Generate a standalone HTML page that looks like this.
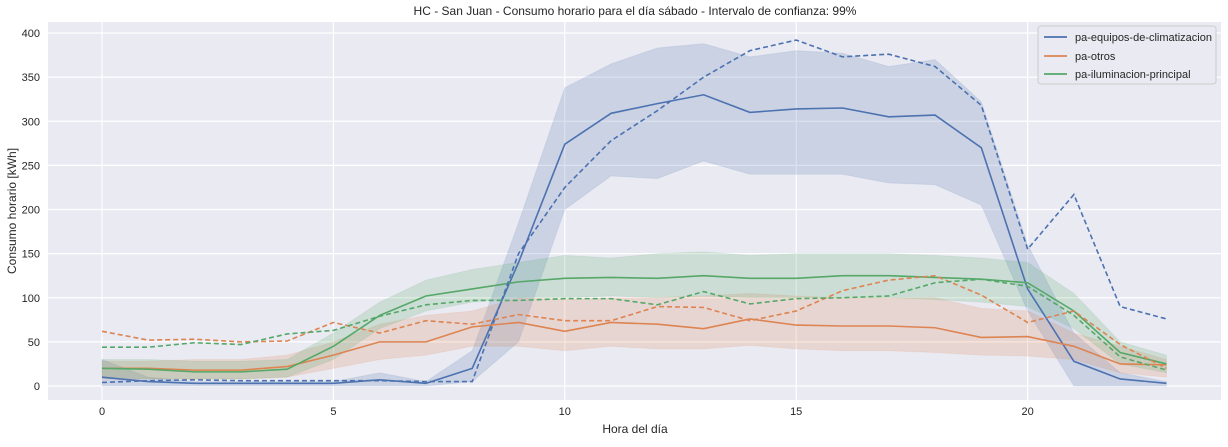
<!DOCTYPE html>
<html><head><meta charset="utf-8"><style>
body{margin:0;background:#fff;font-family:"Liberation Sans",sans-serif;}
svg text{font-family:"Liberation Sans",sans-serif;fill:#262626;}
</style></head><body>
<svg id="chart" width="1228" height="442" xmlns="http://www.w3.org/2000/svg">
<text x="635" y="15" text-anchor="middle" font-size="12">HC - San Juan - Consumo horario para el día sábado - Intervalo de confianza: 99%</text>
<rect x="48" y="22" width="1173" height="378" fill="#eaeaf2"/>
<g id="grid"></g><g id="bands"></g><g id="lines"></g><g id="ticks"></g>
<text x="635" y="433" text-anchor="middle" font-size="12">Hora del día</text>
<text transform="translate(16,211) rotate(-90)" text-anchor="middle" font-size="12">Consumo horario [kWh]</text>
<g>
<rect x="1038" y="26" width="178" height="58" rx="3" fill="#eaeaf2" stroke="#ccc"/>
<line x1="1044" y1="37" x2="1067" y2="37" stroke="#4c72b0" stroke-width="1.8"/>
<text x="1075" y="41" font-size="11">pa-equipos-de-climatizacion</text>
<line x1="1044" y1="56" x2="1067" y2="56" stroke="#dd8452" stroke-width="1.8"/>
<text x="1075" y="60" font-size="11">pa-otros</text>
<line x1="1044" y1="74" x2="1067" y2="74" stroke="#55a868" stroke-width="1.8"/>
<text x="1075" y="78" font-size="11">pa-iluminacion-principal</text>
</g>
</svg>
<script>
const hours=[0,1,2,3,4,5,6,7,8,9,10,11,12,13,14,15,16,17,18,19,20,21,22,23];
const xTicks=[0,5,10,15,20];
const yTicks=[0,50,100,150,200,250,300,350,400];
const climMean=[10,5,3,3,3,3,7,3,20,140,274,309,320,330,310,314,315,305,307,270,110,28,8,3];
const climLow=[0,0,0,0,0,0,0,0,5,50,200,238,235,255,240,240,240,230,228,205,85,0,0,0];
const climHigh=[30,10,5,5,5,5,15,5,40,185,338,365,383,388,373,380,377,362,370,322,160,60,15,5];
const climRef=[4,6,7,6,6,6,6,5,5,150,225,278,312,350,380,392,373,376,362,318,155,217,90,76];
const otrosMean=[20,20,18,18,22,35,50,50,67,72,62,72,70,65,76,69,68,68,66,55,56,45,25,24];
const otrosLow=[8,8,8,8,10,20,30,35,45,45,40,45,42,42,46,42,40,40,38,35,34,30,15,10];
const otrosHigh=[28,28,30,30,35,50,70,80,85,100,98,100,100,102,105,102,100,100,100,88,85,60,45,30];
const otrosRef=[62,52,53,50,51,72,60,74,70,81,74,74,90,89,74,85,108,120,125,103,72,85,47,20];
const ilumMean=[20,19,16,16,19,45,80,102,110,118,122,123,122,125,122,122,125,125,123,121,117,85,38,25];
const ilumLow=[10,8,8,8,10,30,65,85,95,100,100,102,100,102,100,100,100,100,98,95,90,65,25,15];
const ilumHigh=[30,30,28,28,30,60,95,120,132,140,148,145,150,152,148,150,150,150,148,145,140,105,50,35];
const ilumRef=[44,44,49,47,59,63,79,92,97,97,99,99,92,107,93,99,100,102,117,121,113,80,33,18];
const NS="http://www.w3.org/2000/svg";
const X=h=>102+h*46.28, Y=v=>386-v*0.8825;
function mk(t,a,p){const e=document.createElementNS(NS,t);for(const k in a)e.setAttribute(k,a[k]);document.getElementById(p).appendChild(e);return e;}
for(const t of xTicks){
const g=mk('line',{x1:X(t),x2:X(t),y1:22,y2:400,stroke:'#fff','stroke-width':1.2},'grid');


const l=mk('text',{x:X(t),y:415,'text-anchor':'middle','font-size':11},'ticks');l.textContent=t;

}
for(const t of yTicks){
const g=mk('line',{x1:48,x2:1221,y1:Y(t),y2:Y(t),stroke:'#fff','stroke-width':1.2},'grid');


const l=mk('text',{x:40,y:Y(t)+4,'text-anchor':'end','font-size':11},'ticks');l.textContent=t;

}
function band(lo,hi,c,n){const pts=hours.map((h,i)=>X(h)+','+Y(hi[i])).concat(hours.slice().reverse().map((h,j)=>X(h)+','+Y(lo[hours.length-1-j])));
const p=mk('polygon',{points:pts.join(' '),fill:c,'fill-opacity':0.2,stroke:c,'stroke-opacity':0.1},'bands');

}
function line(v,c,dash,n){const p=mk('polyline',{points:hours.map((h,i)=>X(h)+','+Y(v[i])).join(' '),fill:'none',stroke:c,'stroke-width':1.6,'stroke-dasharray':dash?'5,3':'none'},'lines');

}
band(climLow,climHigh,'#4c72b0','climatizacion-ci-band');
band(otrosLow,otrosHigh,'#dd8452','otros-ci-band');
band(ilumLow,ilumHigh,'#55a868','iluminacion-ci-band');
line(climMean,'#4c72b0',false,'climatizacion-line');
line(otrosMean,'#dd8452',false,'otros-line');
line(ilumMean,'#55a868',false,'iluminacion-line');
line(climRef,'#4c72b0',true,'climatizacion-dashed-line');
line(otrosRef,'#dd8452',true,'otros-dashed-line');
line(ilumRef,'#55a868',true,'iluminacion-dashed-line');
</script>
</body></html>
